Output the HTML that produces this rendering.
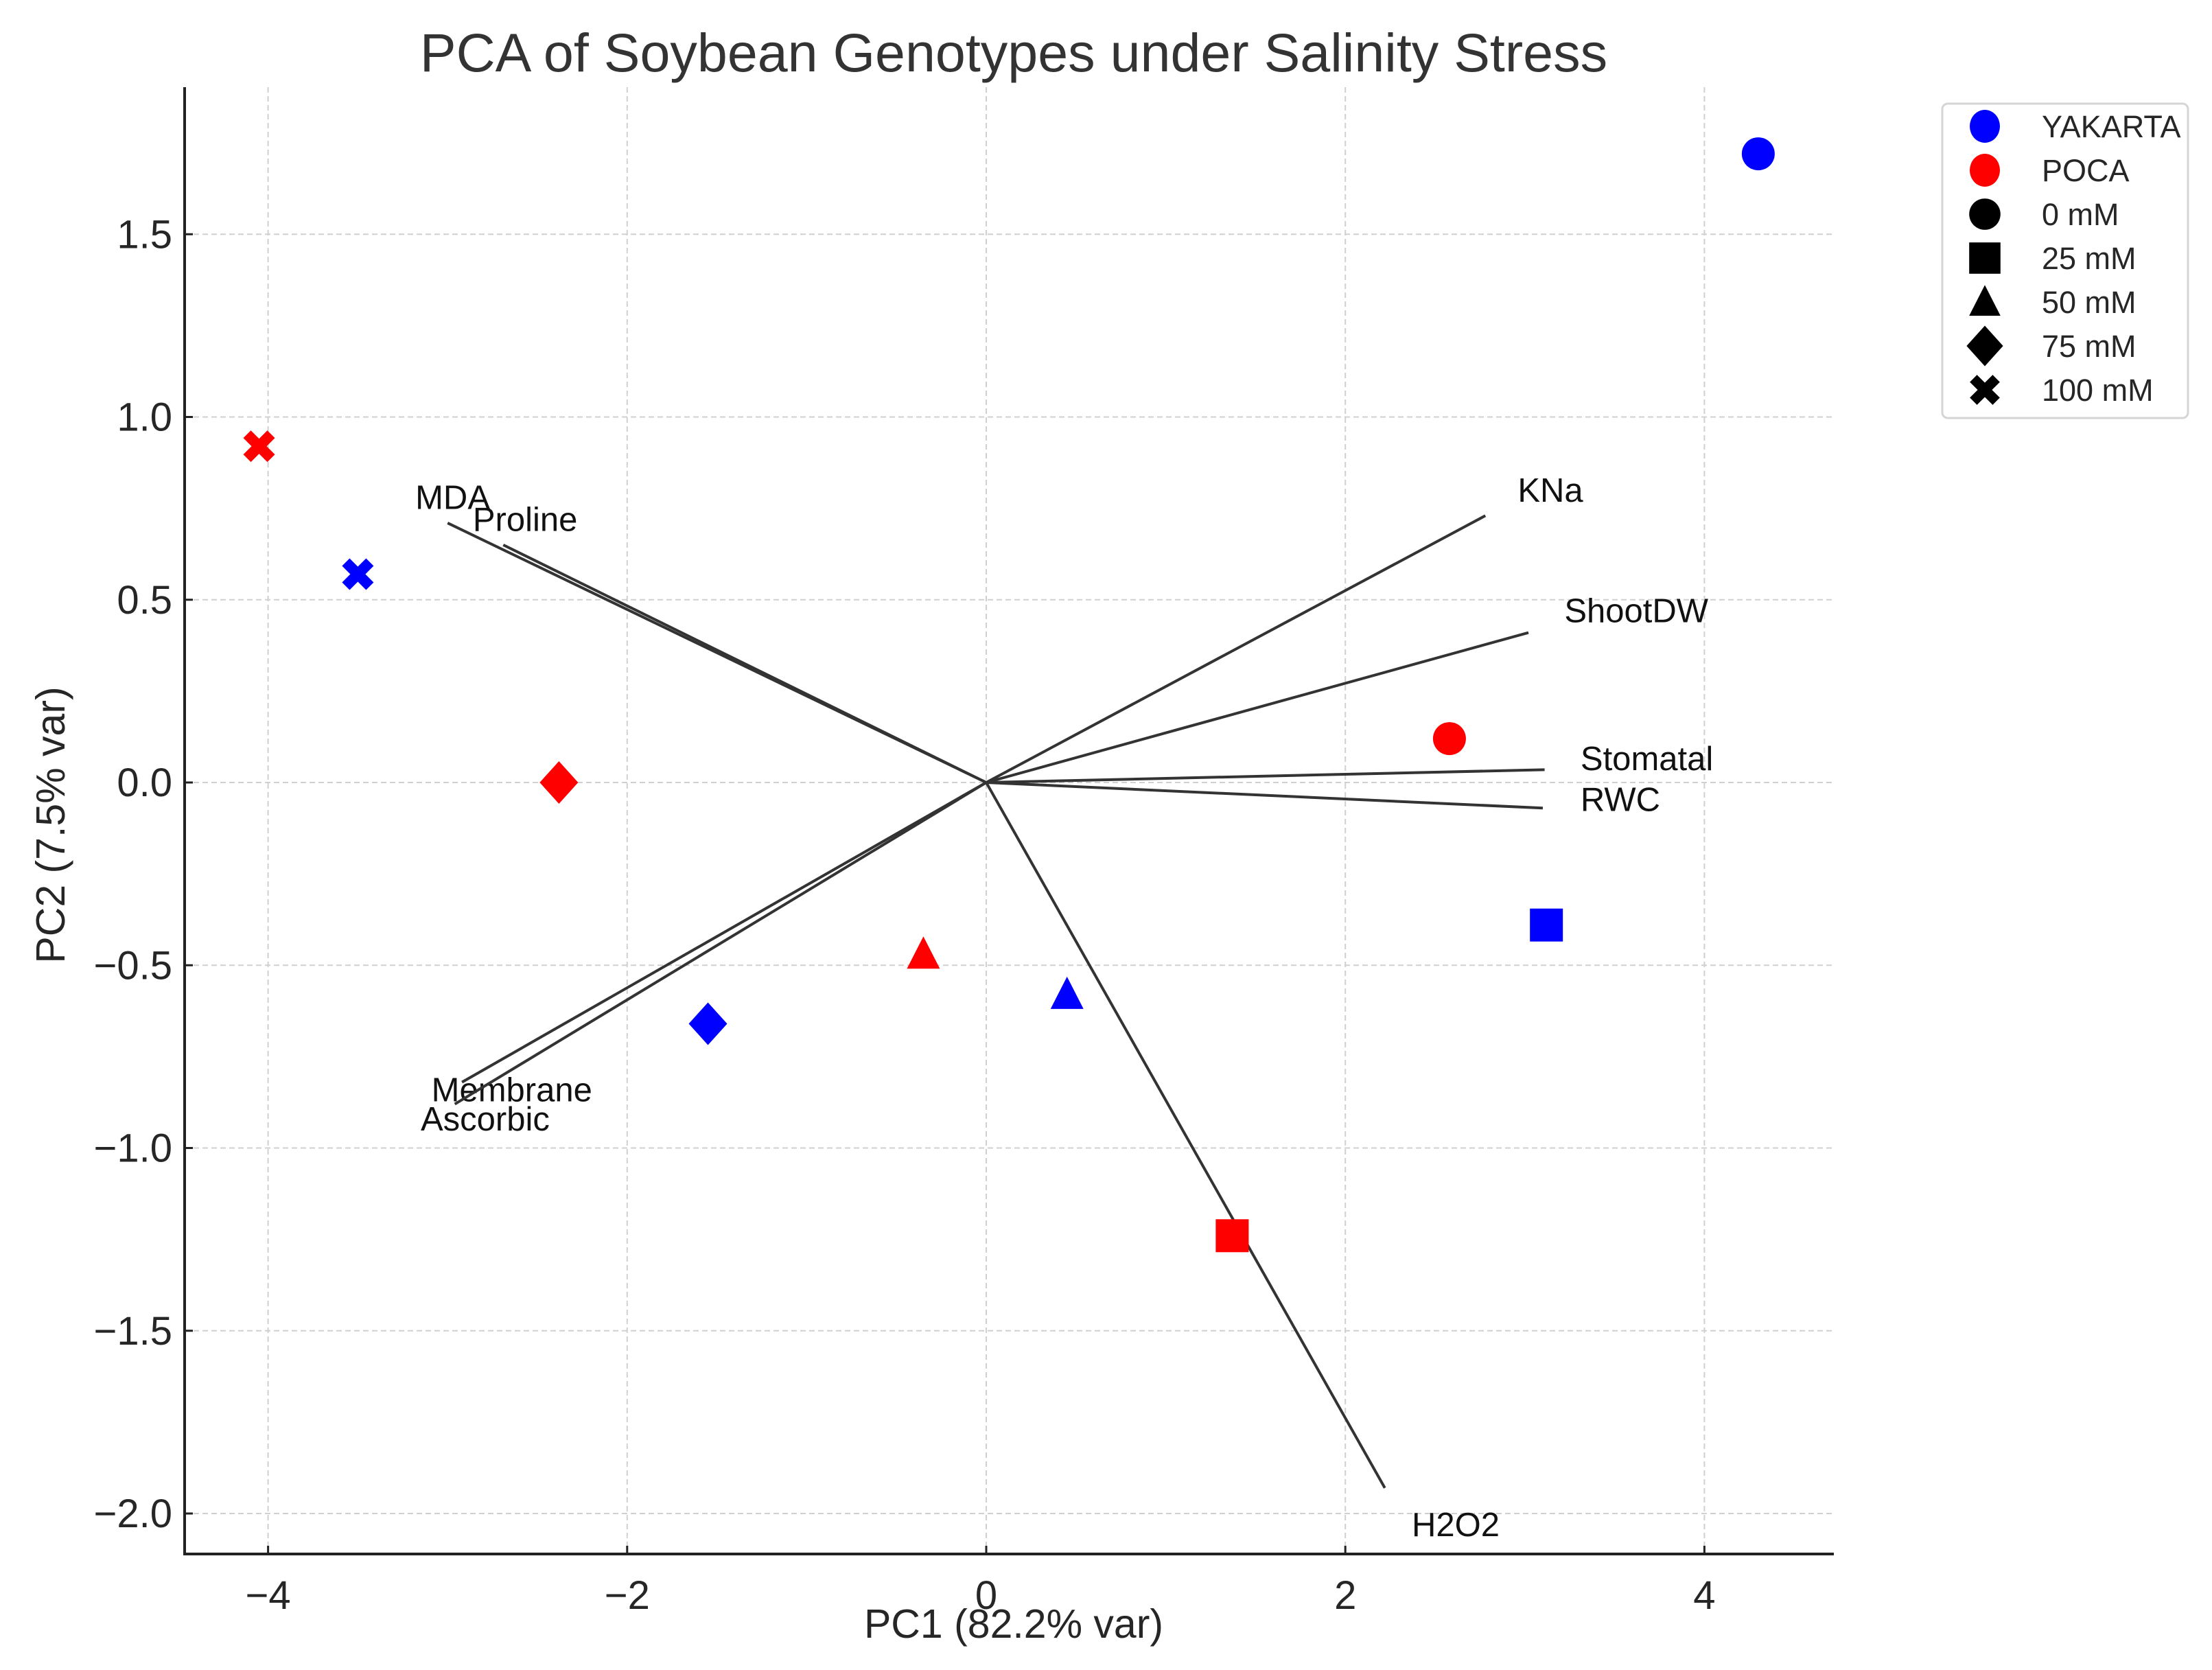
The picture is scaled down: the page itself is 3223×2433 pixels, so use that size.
<!DOCTYPE html>
<html><head><meta charset="utf-8"><style>
html,body{margin:0;padding:0;background:#fff;}
svg{display:block;font-family:"Liberation Sans","DejaVu Sans",sans-serif;}
</style></head><body>
<svg id="chart" width="3223" height="2433" viewBox="0 0 3223 2433" xmlns="http://www.w3.org/2000/svg">
<rect width="3223" height="2433" fill="#fff"/>
<g id="grid"></g>
<g id="arrows"></g>
<g id="points"></g>
<g id="axes"></g>
<text x="1477" y="104" font-size="79" fill="#333" text-anchor="middle">PCA of Soybean Genotypes under Salinity Stress</text>
<text x="1477" y="2386" font-size="59" fill="#262626" text-anchor="middle">PC1 (82.2% var)</text>
<text x="94" y="1202" font-size="59" fill="#262626" text-anchor="middle" transform="rotate(-90 94 1202)">PC2 (7.5% var)</text>
<g id="legend"></g>
</svg>
<script>
const xTicks=[-4,-2,0,2,4];
const xTickLabels=["\u22124","\u22122","0","2","4"];
const yTicks=[1.5,1.0,0.5,0.0,-0.5,-1.0,-1.5,-2.0];
const yTickLabels=["1.5","1.0","0.5","0.0","\u22120.5","\u22121.0","\u22121.5","\u22122.0"];
const genotypes=["YAKARTA","YAKARTA","YAKARTA","YAKARTA","YAKARTA","POCA","POCA","POCA","POCA","POCA"];
const doses=["0 mM","25 mM","50 mM","75 mM","100 mM","0 mM","25 mM","50 mM","75 mM","100 mM"];
const pc1=[4.30,3.12,0.45,-1.55,-3.50,2.58,1.37,-0.35,-2.38,-4.05];
const pc2=[1.72,-0.39,-0.58,-0.66,0.57,0.12,-1.24,-0.47,0.00,0.92];
const varNames=["MDA","Proline","KNa","ShootDW","Stomatal","RWC","Membrane","Ascorbic","H2O2"];
const loadX=[-3.00,-2.69,2.78,3.02,3.11,3.10,-2.92,-2.96,2.22];
const loadY=[0.71,0.65,0.73,0.41,0.035,-0.07,-0.82,-0.88,-1.93];
const labelX=[-3.18,-2.86,2.96,3.22,3.31,3.31,-3.09,-3.15,2.37];
const labelY=[0.78,0.72,0.80,0.47,0.066,-0.046,-0.84,-0.92,-2.03];

const L=269,R=2672,T=127,B=2264;
const X0=1437,UX=261.6,Y0=1140,UY=532.5;
const sx=v=>X0+v*UX, sy=v=>Y0-v*UY;
const NS="http://www.w3.org/2000/svg";
function mk(tag,attrs,parent){const e=document.createElementNS(NS,tag);for(const k in attrs)e.setAttribute(k,attrs[k]);parent.appendChild(e);return e;}
const grid=document.getElementById('grid'),axes=document.getElementById('axes'),arrows=document.getElementById('arrows'),pts=document.getElementById('points'),leg=document.getElementById('legend');

xTicks.forEach((t,i)=>{
  const g=mk('line',{x1:sx(t),x2:sx(t),y1:T,y2:B,stroke:'#d0d0d0','stroke-width':2,'stroke-dasharray':'8 5'},grid);
  
  
  const tk=mk('line',{x1:sx(t),x2:sx(t),y1:B,y2:B-12,stroke:'#222','stroke-width':3},axes);
  
  
  const tl=mk('text',{x:sx(t),y:B+80,'font-size':58,fill:'#262626','text-anchor':'middle'},axes);
  tl.textContent=xTickLabels[i];
  
  
});
yTicks.forEach((t,i)=>{
  const g=mk('line',{x1:L,x2:R,y1:sy(t),y2:sy(t),stroke:'#d0d0d0','stroke-width':2,'stroke-dasharray':'8 5'},grid);
  
  
  const tk=mk('line',{x1:L,x2:L+12,y1:sy(t),y2:sy(t),stroke:'#222','stroke-width':3},axes);
  
  
  const tl=mk('text',{x:L-18,y:sy(t)+20,'font-size':58,fill:'#262626','text-anchor':'end'},axes);
  tl.textContent=yTickLabels[i];
  
  
});
const sl=mk('line',{x1:L,x2:L,y1:T,y2:B+2,stroke:'#222','stroke-width':4},axes);


const sb=mk('line',{x1:L-2,x2:R,y1:B,y2:B,stroke:'#222','stroke-width':4},axes);



varNames.forEach((n,i)=>{
  const ln=mk('line',{x1:sx(0),y1:sy(0),x2:sx(loadX[i]),y2:sy(loadY[i]),stroke:'#333','stroke-width':4},arrows);
  
  
  const t=mk('text',{x:sx(labelX[i]),y:sy(labelY[i])+17,'font-size':49,fill:'#111'},arrows);
  t.textContent=n;
  
  
});

function marker(dose,cx,cy,color,parent,s){
  s=s||1;
  if(dose==="0 mM") return mk('ellipse',{cx:cx,cy:cy,rx:24*s,ry:24*s,fill:color},parent);
  if(dose==="25 mM") return mk('rect',{x:cx-24*s,y:cy-24*s,width:48*s,height:48*s,fill:color},parent);
  if(dose==="50 mM") return mk('polygon',{points:`${cx},${cy-26*s} ${cx+24*s},${cy+21*s} ${cx-24*s},${cy+21*s}`,fill:color},parent);
  if(dose==="75 mM") return mk('polygon',{points:`${cx},${cy-31*s} ${cx+28*s},${cy} ${cx},${cy+31*s} ${cx-28*s},${cy}`,fill:color},parent);
  const a=23*s,w=11*s;
  return mk('path',{d:`M${cx-a+w} ${cy-a} L${cx} ${cy-w} L${cx+a-w} ${cy-a} L${cx+a} ${cy-a+w} L${cx+w} ${cy} L${cx+a} ${cy+a-w} L${cx+a-w} ${cy+a} L${cx} ${cy+w} L${cx-a+w} ${cy+a} L${cx-a} ${cy+a-w} L${cx-w} ${cy} L${cx-a} ${cy-a+w} Z`,fill:color},parent);
}
pc1.forEach((v,i)=>{
  const col=genotypes[i]==="YAKARTA"?"#0000ff":"#ff0000";
  const m=marker(doses[i],sx(v),sy(pc2[i]),col,pts);
  
  
});

const lb=mk('rect',{x:2830,y:151,width:358,height:458,rx:8,fill:'#fff',stroke:'#d5d5d5','stroke-width':3},leg);


const legLabels=["YAKARTA","POCA","0 mM","25 mM","50 mM","75 mM","100 mM"];
legLabels.forEach((n,i)=>{
  const y=184+i*64;
  let m;
  if(i===0) m=mk('ellipse',{cx:2892,cy:y,rx:22,ry:24,fill:'#0000ff'},leg);
  else if(i===1) m=mk('ellipse',{cx:2892,cy:y,rx:22,ry:24,fill:'#ff0000'},leg);
  else m=marker(n,2892,y,'#000',leg,0.95);
  
  
  const t=mk('text',{x:2975,y:y+16,'font-size':45,fill:'#262626'},leg);
  t.textContent=n;
  
  
});
</script>
</body></html>
